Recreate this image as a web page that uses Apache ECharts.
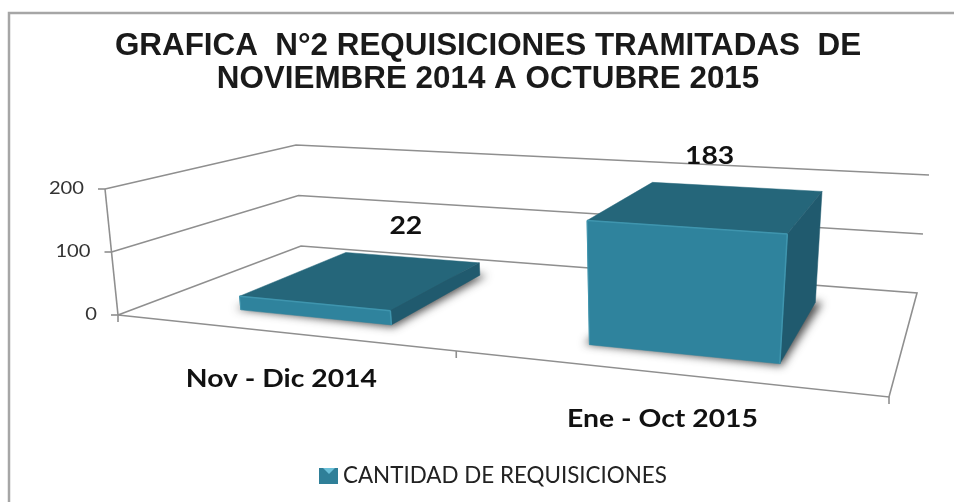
<!DOCTYPE html>
<html lang="es">
<head>
    <meta charset="UTF-8">
    <title>Requisiciones tramitadas</title>
    <script src="https://cdn.jsdelivr.net/npm/echarts@6/dist/echarts.min.js"></script>
    <style>
        *{margin:0;padding:0;overflow:hidden;}
        html,body{background:#fff;}
        #main{width:954px;height:502px;}
    </style>
</head>
<body>
<div id="main"></div>
<script>
    var categories = ['Nov - Dic 2014', 'Ene - Oct 2015'];
    var values = [22, 183];
    var yTicks = [0, 100, 200];
    var seriesName = 'CANTIDAD DE REQUISICIONES';
    var titleText = 'GRAFICA  N°2 REQUISICIONES TRAMITADAS  DE\nNOVIEMBRE 2014 A OCTUBRE 2015';

    // corners of the 3D box on screen: front-left, front-right, back-right, back-left
    var floorCorners = [[118, 315], [889, 397], [917, 293], [301, 246]];
    var topCorners = [[105, 189], [907, 245], [929, 175], [296, 145]];
    var grid = {left: 118, right: 65, top: 189, bottom: 187};
    var gridW = 954 - grid.left - grid.right;
    var gridH = 502 - grid.top - grid.bottom;

    var barRatio = 0.46;          // bar width / category band
    var barShift = 0.008;         // bars sit a bit right of the band centre
    var depthFront = 0.165, depthBack = 0.79;
    var labelNudge = [[40, -52], [-2, -49]];
    var lineColor = '#8f8f8f';
    var labelFont = 'bold 24px Lato, sans-serif';
    var labelStretch = 1.18;      // the reference is stretched sideways
    var offscreen = 3000;         // shadow caster sits off the page, only its blur shows

    // unit square -> quad (perspective)
    function homography(q, u, d) {
        var x0 = q[0][0], y0 = q[0][1], x1 = q[1][0], y1 = q[1][1];
        var x2 = q[2][0], y2 = q[2][1], x3 = q[3][0], y3 = q[3][1];
        var dx1 = x1 - x2, dx2 = x3 - x2, sx = x0 - x1 + x2 - x3;
        var dy1 = y1 - y2, dy2 = y3 - y2, sy = y0 - y1 + y2 - y3;
        var det = dx1 * dy2 - dx2 * dy1;
        var g = (sx * dy2 - dx2 * sy) / det;
        var h = (dx1 * sy - sx * dy1) / det;
        var w = 1 + g * u + h * d;
        return [
            (x0 + (x1 - x0 + g * x1) * u + (x3 - x0 + h * x3) * d) / w,
            (y0 + (y1 - y0 + g * y1) * u + (y3 - y0 + h * y3) * d) / w
        ];
    }

    // u across, d into the depth, t = 0 floor .. 1 top of the axis
    function project(u, d, t) {
        var a = homography(floorCorners, u, d);
        var b = homography(topCorners, u, d);
        return [a[0] + (b[0] - a[0]) * t, a[1] + (b[1] - a[1]) * t];
    }

    function line(points, color, width) {
        return {
            type: 'polyline',
            shape: {points: points},
            style: {stroke: color, lineWidth: width, fill: null}
        };
    }

    function poly(points, color) {
        return {
            type: 'polygon',
            shape: {points: points},
            style: {fill: color, stroke: color, lineWidth: 0.5}
        };
    }

    function text(x, y, str, font, align, color, stretch) {
        return {
            type: 'text',
            x: x,
            y: y,
            scaleX: stretch,
            style: {x: 0, y: 0, text: str, font: font, align: align, verticalAlign: 'middle', fill: color}
        };
    }

    // floor, walls, ticks and value labels
    function renderWall(params, api) {
        var value = api.value(1);
        var t = (grid.top + gridH - api.coord([0, value])[1]) / gridH;
        var fl = project(0, 0, t), bl = project(0, 1, t), br = project(1, 1, t);
        var kids = [
            line([[fl[0] - 7, fl[1]], fl], lineColor, 1.6),
            text(fl[0] - 21, fl[1] - 1, String(value), '18px Lato, sans-serif', 'right', '#333', 1.12)
        ];
        if (t > 0) {
            kids.push(line([fl, bl, br], lineColor, 1.6));
        } else {
            var fr = project(1, 0, 0);
            var mid = project(0.5, 0, 0);
            kids.push(line([fl, fr, br, bl, fl], lineColor, 1.6));
            kids.push(line([fl, project(0, 0, 1)], lineColor, 1.6));
            kids.push(line([fl, [fl[0], fl[1] + 7]], lineColor, 1.6));
            kids.push(line([mid, [mid[0], mid[1] + 7]], lineColor, 1.6));
            kids.push(line([fr, [fr[0], fr[1] + 7]], lineColor, 1.6));
        }
        return {type: 'group', children: kids};
    }

    function renderBar(params, api) {
        var c = api.coord([api.value(0), 0]);
        var top = api.coord([api.value(0), api.value(1)]);
        var band = api.size([1, 0])[0];
        var uc = (c[0] - grid.left) / gridW;
        var du = band * barRatio / 2 / gridW;
        var u0 = uc + barShift - du, u1 = uc + barShift + du;
        var d0 = depthFront, d1 = depthBack;
        var t = (c[1] - top[1]) / gridH;

        var a = project(u0, d0, 0), b = project(u1, d0, 0), e = project(u1, d1, 0);
        var f = project(u0, d1, 0);
        var A = project(u0, d0, t), B = project(u1, d0, t), E = project(u1, d1, t), F = project(u0, d1, t);

        var tick = project(uc, 0, 0);
        var mid = project(uc + barShift, (d0 + d1) / 2, t);
        var n = labelNudge[params.dataIndex];

        return {
            type: 'group',
            children: [
                // soft shadow on the floor
                {
                    type: 'polygon',
                    x: -offscreen,
                    shape: {points: [[a[0] - 5, a[1] - 1], [b[0] + 2, b[1] + 2], [e[0] + 7, e[1]], [f[0], f[1]]]},
                    style: {fill: '#000', shadowBlur: 9, shadowOffsetX: offscreen, shadowColor: 'rgba(50,50,50,0.85)'}
                },
                poly([A, B, E, F], '#25667a'),
                poly([b, e, E, B], '#205a6e'),
                poly([a, b, B, A], '#2f839d'),
                line([A, B], '#3f95ae', 1.5),
                line([B, b], '#3f95ae', 1.5),
                line([A, a], '#3f95ae', 1),
                text(mid[0] + n[0], mid[1] + n[1], String(api.value(1)), labelFont, 'center', '#111', labelStretch),
                text(tick[0] + 4, tick[1] + 47, categories[params.dataIndex], labelFont, 'center', '#111', labelStretch)
            ]
        };
    }

    var myChart = echarts.init(document.getElementById('main'));
    myChart.setOption({
        animation: false,
        backgroundColor: '#fff',
        title: {
            text: titleText,
            left: 483,
            top: 25,
            textAlign: 'center',
            textStyle: {fontFamily: 'Liberation Sans', fontWeight: 'bold', fontSize: 31.4, lineHeight: 33, color: '#1a1a1a'}
        },
        grid: grid,
        xAxis: {type: 'category', data: categories, show: false},
        yAxis: {type: 'value', min: 0, max: 200, interval: 100, show: false},
        legend: {
            data: [seriesName],
            left: 314,
            top: 460,
            icon: 'rect',
            itemWidth: 19,
            itemHeight: 16,
            textStyle: {fontFamily: 'Lato', fontSize: 22.4, color: '#222'}
        },
        graphic: [
            {type: 'polyline', shape: {points: [[9, 502], [9, 13], [954, 13]]}, style: {fill: null, stroke: '#a6a6a6', lineWidth: 2.5}, z: -1},
            {type: 'polygon', shape: {points: [[323, 468], [335, 468], [329, 474]]}, style: {fill: '#6cc0d8'}, z: 100}
        ],
        series: [
            {
                type: 'custom',
                name: 'ejes',
                coordinateSystem: 'cartesian2d',
                renderItem: renderWall,
                data: yTicks.map(function (v) { return [0, v]; }),
                silent: true
            },
            {
                type: 'custom',
                name: seriesName,
                coordinateSystem: 'cartesian2d',
                renderItem: renderBar,
                itemStyle: {color: '#2f7f98'},
                data: values.map(function (v, i) { return [i, v]; }),
                silent: true
            }
        ]
    });
</script>
</body>
</html>
